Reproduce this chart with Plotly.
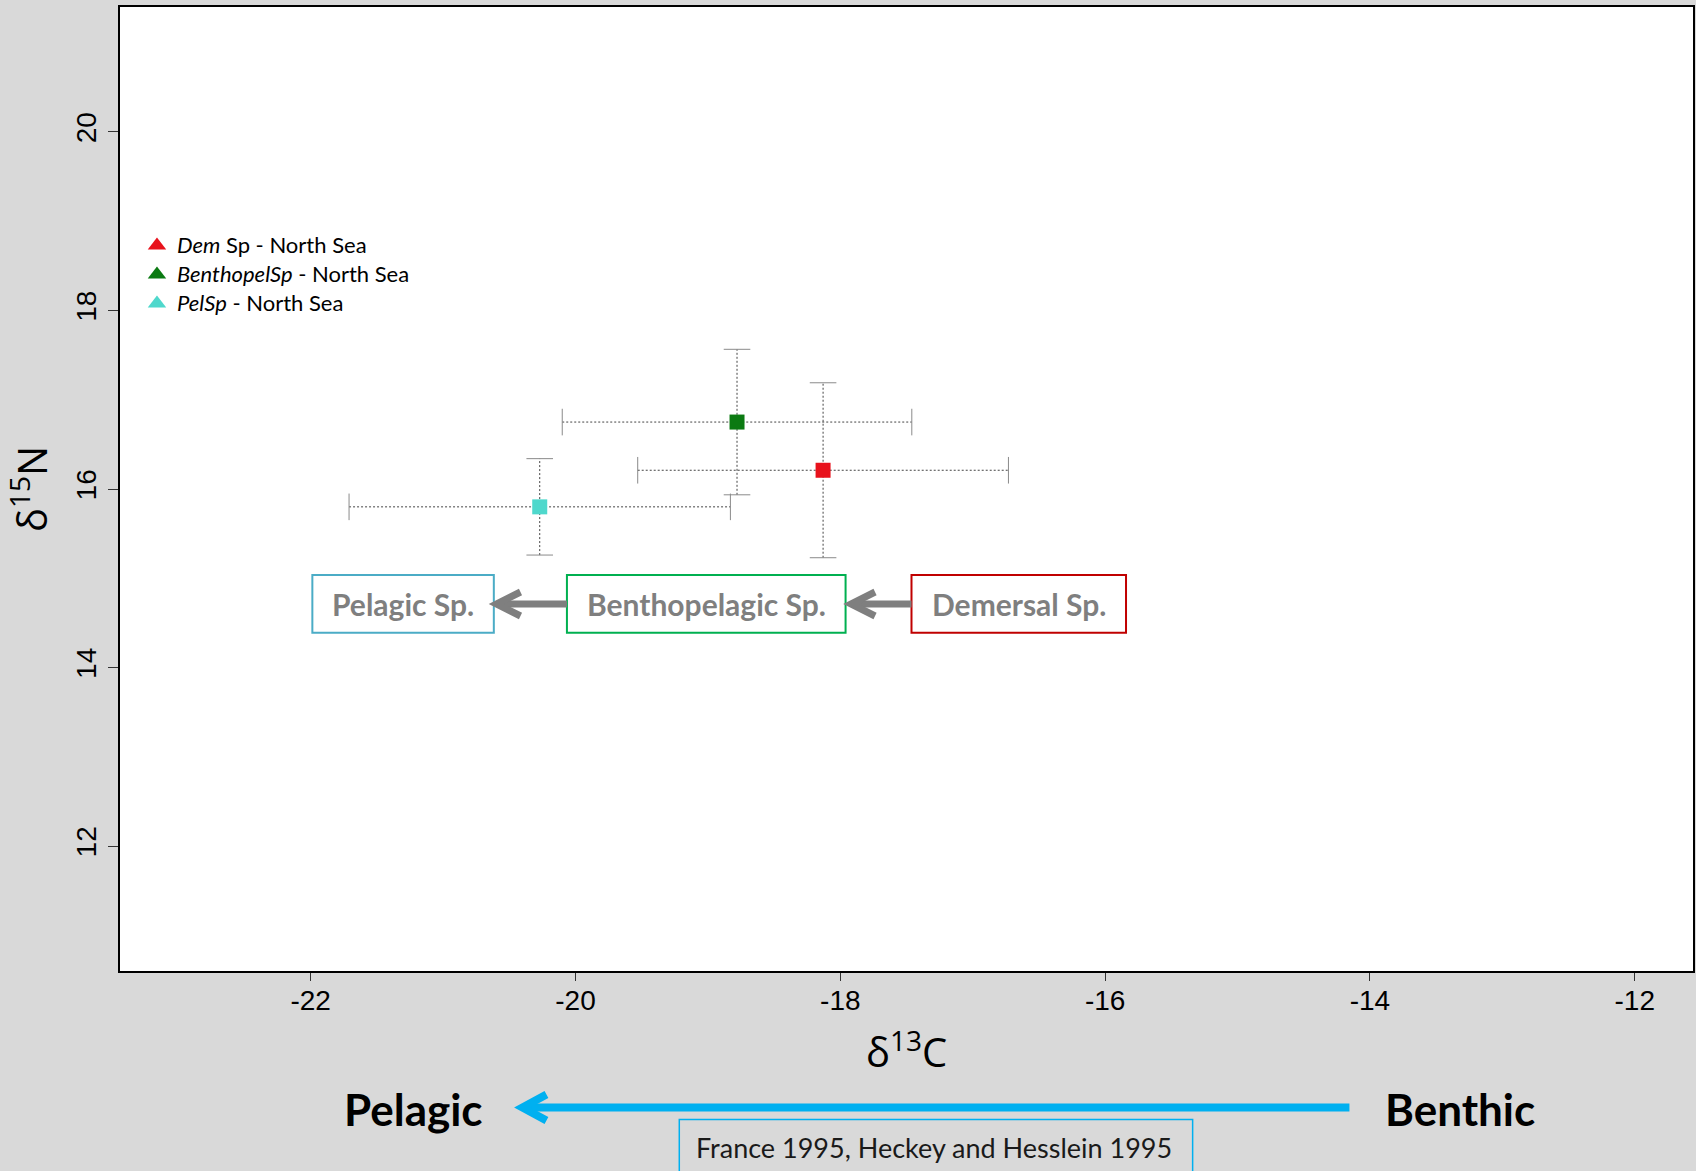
import plotly.graph_objects as go

# ---------------- data ----------------
groups = ["Dem Sp - North Sea", "BenthopelSp - North Sea", "PelSp - North Sea"]
legend_labels = ["<i>Dem</i> Sp - North Sea", "<i>BenthopelSp</i> - North Sea", "<i>PelSp</i> - North Sea"]
d13C_mean = [-18.13, -18.78, -20.27]
d13C_sd = [1.40, 1.32, 1.44]
d15N_mean = [16.21, 16.75, 15.80]
d15N_sd = [0.98, 0.815, 0.54]
group_colors = ["#e8121c", "#0b7a12", "#4fd8cc"]

x_ticks = [-22, -20, -18, -16, -14, -12]
y_ticks = [12, 14, 16, 18, 20]
x_range = [-23.44, -11.56]
y_range = [10.6, 21.4]

box_labels = ["Pelagic Sp.", "Benthopelagic Sp.", "Demersal Sp."]
box_colors = ["#4bacc6", "#00b050", "#c00000"]

# ---------------- layout geometry (pixels) ----------------
FW, FH = 1696, 1171
L, R, T, B = 120, 1695, 7, 971
PW, PH = R - L, B - T


def px(x):
    return (x - L) / PW


def py(y):
    return (B - y) / PH


fig = go.Figure()

# dotted error bars
ex, ey, vx, vy = [], [], [], []
capx, capy, capvx, capvy = [], [], [], []
for m, s, n, t in zip(d13C_mean, d13C_sd, d15N_mean, d15N_sd):
    ex += [m - s, m + s, None]
    ey += [n, n, None]
    vx += [m, m, None]
    vy += [n - t, n + t, None]
    capx += [m - s, m + s]
    capy += [n, n]
    capvx += [m, m]
    capvy += [n - t, n + t]

fig.add_trace(go.Scatter(x=ex + vx, y=ey + vy, mode="lines",
                         line=dict(color="#444444", width=1, dash="2px,2px"),
                         showlegend=False, hoverinfo="skip"))
fig.add_trace(go.Scatter(x=capx, y=capy, mode="markers",
                         marker=dict(symbol="line-ns-open", size=19, color="#8a8a8a",
                                     line=dict(color="#8a8a8a", width=1)),
                         showlegend=False, hoverinfo="skip"))
fig.add_trace(go.Scatter(x=capvx, y=capvy, mode="markers",
                         marker=dict(symbol="line-ew-open", size=19, color="#8a8a8a",
                                     line=dict(color="#8a8a8a", width=1)),
                         showlegend=False, hoverinfo="skip"))

# mean points (squares)
for g, m, n, c in zip(groups, d13C_mean, d15N_mean, group_colors):
    fig.add_trace(go.Scatter(x=[m], y=[n], mode="markers", name=g,
                             marker=dict(symbol="square", size=15, color=c),
                             showlegend=False))

# legend entries (triangles)
for lab, c in zip(legend_labels, group_colors):
    fig.add_trace(go.Scatter(x=[None], y=[None], mode="markers",
                             name='<span style="font-size:22px">%s</span>' % lab,
                             marker=dict(symbol="triangle-up", size=16, color=c)))

shapes = []
annotations = []

# category boxes with grey arrows
box_x = [(312.6, 494.3), (567.5, 846.5), (912.5, 1127.3)]
box_y = (575, 632.7)
for lab, (x0, x1), c in zip(box_labels, box_x, box_colors):
    shapes.append(dict(type="rect", xref="paper", yref="paper",
                       x0=px(x0), x1=px(x1), y0=py(box_y[1]), y1=py(box_y[0]),
                       line=dict(color=c, width=2), fillcolor="white"))
    annotations.append(dict(xref="paper", yref="paper", x=px((x0 + x1) / 2), y=py(604),
                            text="<b>%s</b>" % lab, showarrow=False,
                            xanchor="center", yanchor="middle",
                            font=dict(family="Lato", size=30, color="#7f7f7f")))


def arrow_left(tip, tail, yc, color, width, dx, dy):
    shapes.append(dict(type="line", xref="paper", yref="paper",
                       x0=px(tail), x1=px(tip + 3), y0=py(yc), y1=py(yc),
                       line=dict(color=color, width=width)))
    path = "M %f,%f L %f,%f L %f,%f" % (px(tip + dx), py(yc - dy), px(tip), py(yc),
                                       px(tip + dx), py(yc + dy))
    shapes.append(dict(type="path", xref="paper", yref="paper", path=path,
                       line=dict(color=color, width=width)))


arrow_left(497, 567.5, 604, "#7f7f7f", 7, 24, 12)
arrow_left(852, 912.5, 604, "#7f7f7f", 7, 24, 12)

# bottom Pelagic <- Benthic arrow
arrow_left(523, 1351, 1107.6, "#00b0f0", 8, 24, 13)
annotations.append(dict(xref="paper", yref="paper", x=px(414), y=py(1109),
                        text="<b>Pelagic</b>", showarrow=False,
                        xanchor="center", yanchor="middle",
                        font=dict(family="Lato", size=44, color="black")))
annotations.append(dict(xref="paper", yref="paper", x=px(1462), y=py(1109),
                        text="<b>Benthic</b>", showarrow=False,
                        xanchor="center", yanchor="middle",
                        font=dict(family="Lato", size=44, color="black")))

# citation box
shapes.append(dict(type="rect", xref="paper", yref="paper",
                   x0=px(680), x1=px(1194), y0=py(1180), y1=py(1119.5),
                   line=dict(color="#00b0f0", width=1.5), fillcolor="rgba(0,0,0,0)"))
annotations.append(dict(xref="paper", yref="paper", x=px(935), y=py(1147.6),
                        text="France 1995, Heckey and Hesslein 1995", showarrow=False,
                        xanchor="center", yanchor="middle",
                        font=dict(family="Lato", size=27, color="#1a1a1a")))

tick_font = dict(family="Liberation Sans", size=28, color="black")

fig.update_layout(
    width=FW, height=FH,
    margin=dict(l=L, r=FW - R, t=T, b=FH - B, pad=0),
    paper_bgcolor="#d9d9d9",
    plot_bgcolor="white",
    showlegend=True,
    legend=dict(x=px(137), y=py(226), xanchor="left", yanchor="top",
                bgcolor="rgba(0,0,0,0)", borderwidth=0,
                font=dict(family="Lato", size=20, color="black"),
                itemsizing="trace"),
    shapes=shapes,
    annotations=annotations,
    xaxis=dict(range=x_range, tickvals=x_ticks, ticktext=[str(v) for v in x_ticks],
               showgrid=False, zeroline=False, showline=True, mirror=True,
               linecolor="black", linewidth=1.5, ticks="outside", ticklen=8,
               tickcolor="#333333", tickfont=tick_font, ticklabelstandoff=-4,
               title=dict(text="δ<sup>13</sup>C", standoff=24,
                          font=dict(family="Open Sans", size=40, color="black"))),
    yaxis=dict(range=y_range, tickvals=y_ticks, ticktext=[str(v) for v in y_ticks],
               showgrid=False, zeroline=False, showline=True, mirror=True,
               linecolor="black", linewidth=1.5, ticks="outside", ticklen=10,
               tickcolor="#333333", tickfont=tick_font, tickangle=-90,
               ticklabelstandoff=1,
               title=dict(text="δ<sup>15</sup>N", standoff=22,
                          font=dict(family="Open Sans", size=40, color="black"))),
)

fig.write_html("out.html")
